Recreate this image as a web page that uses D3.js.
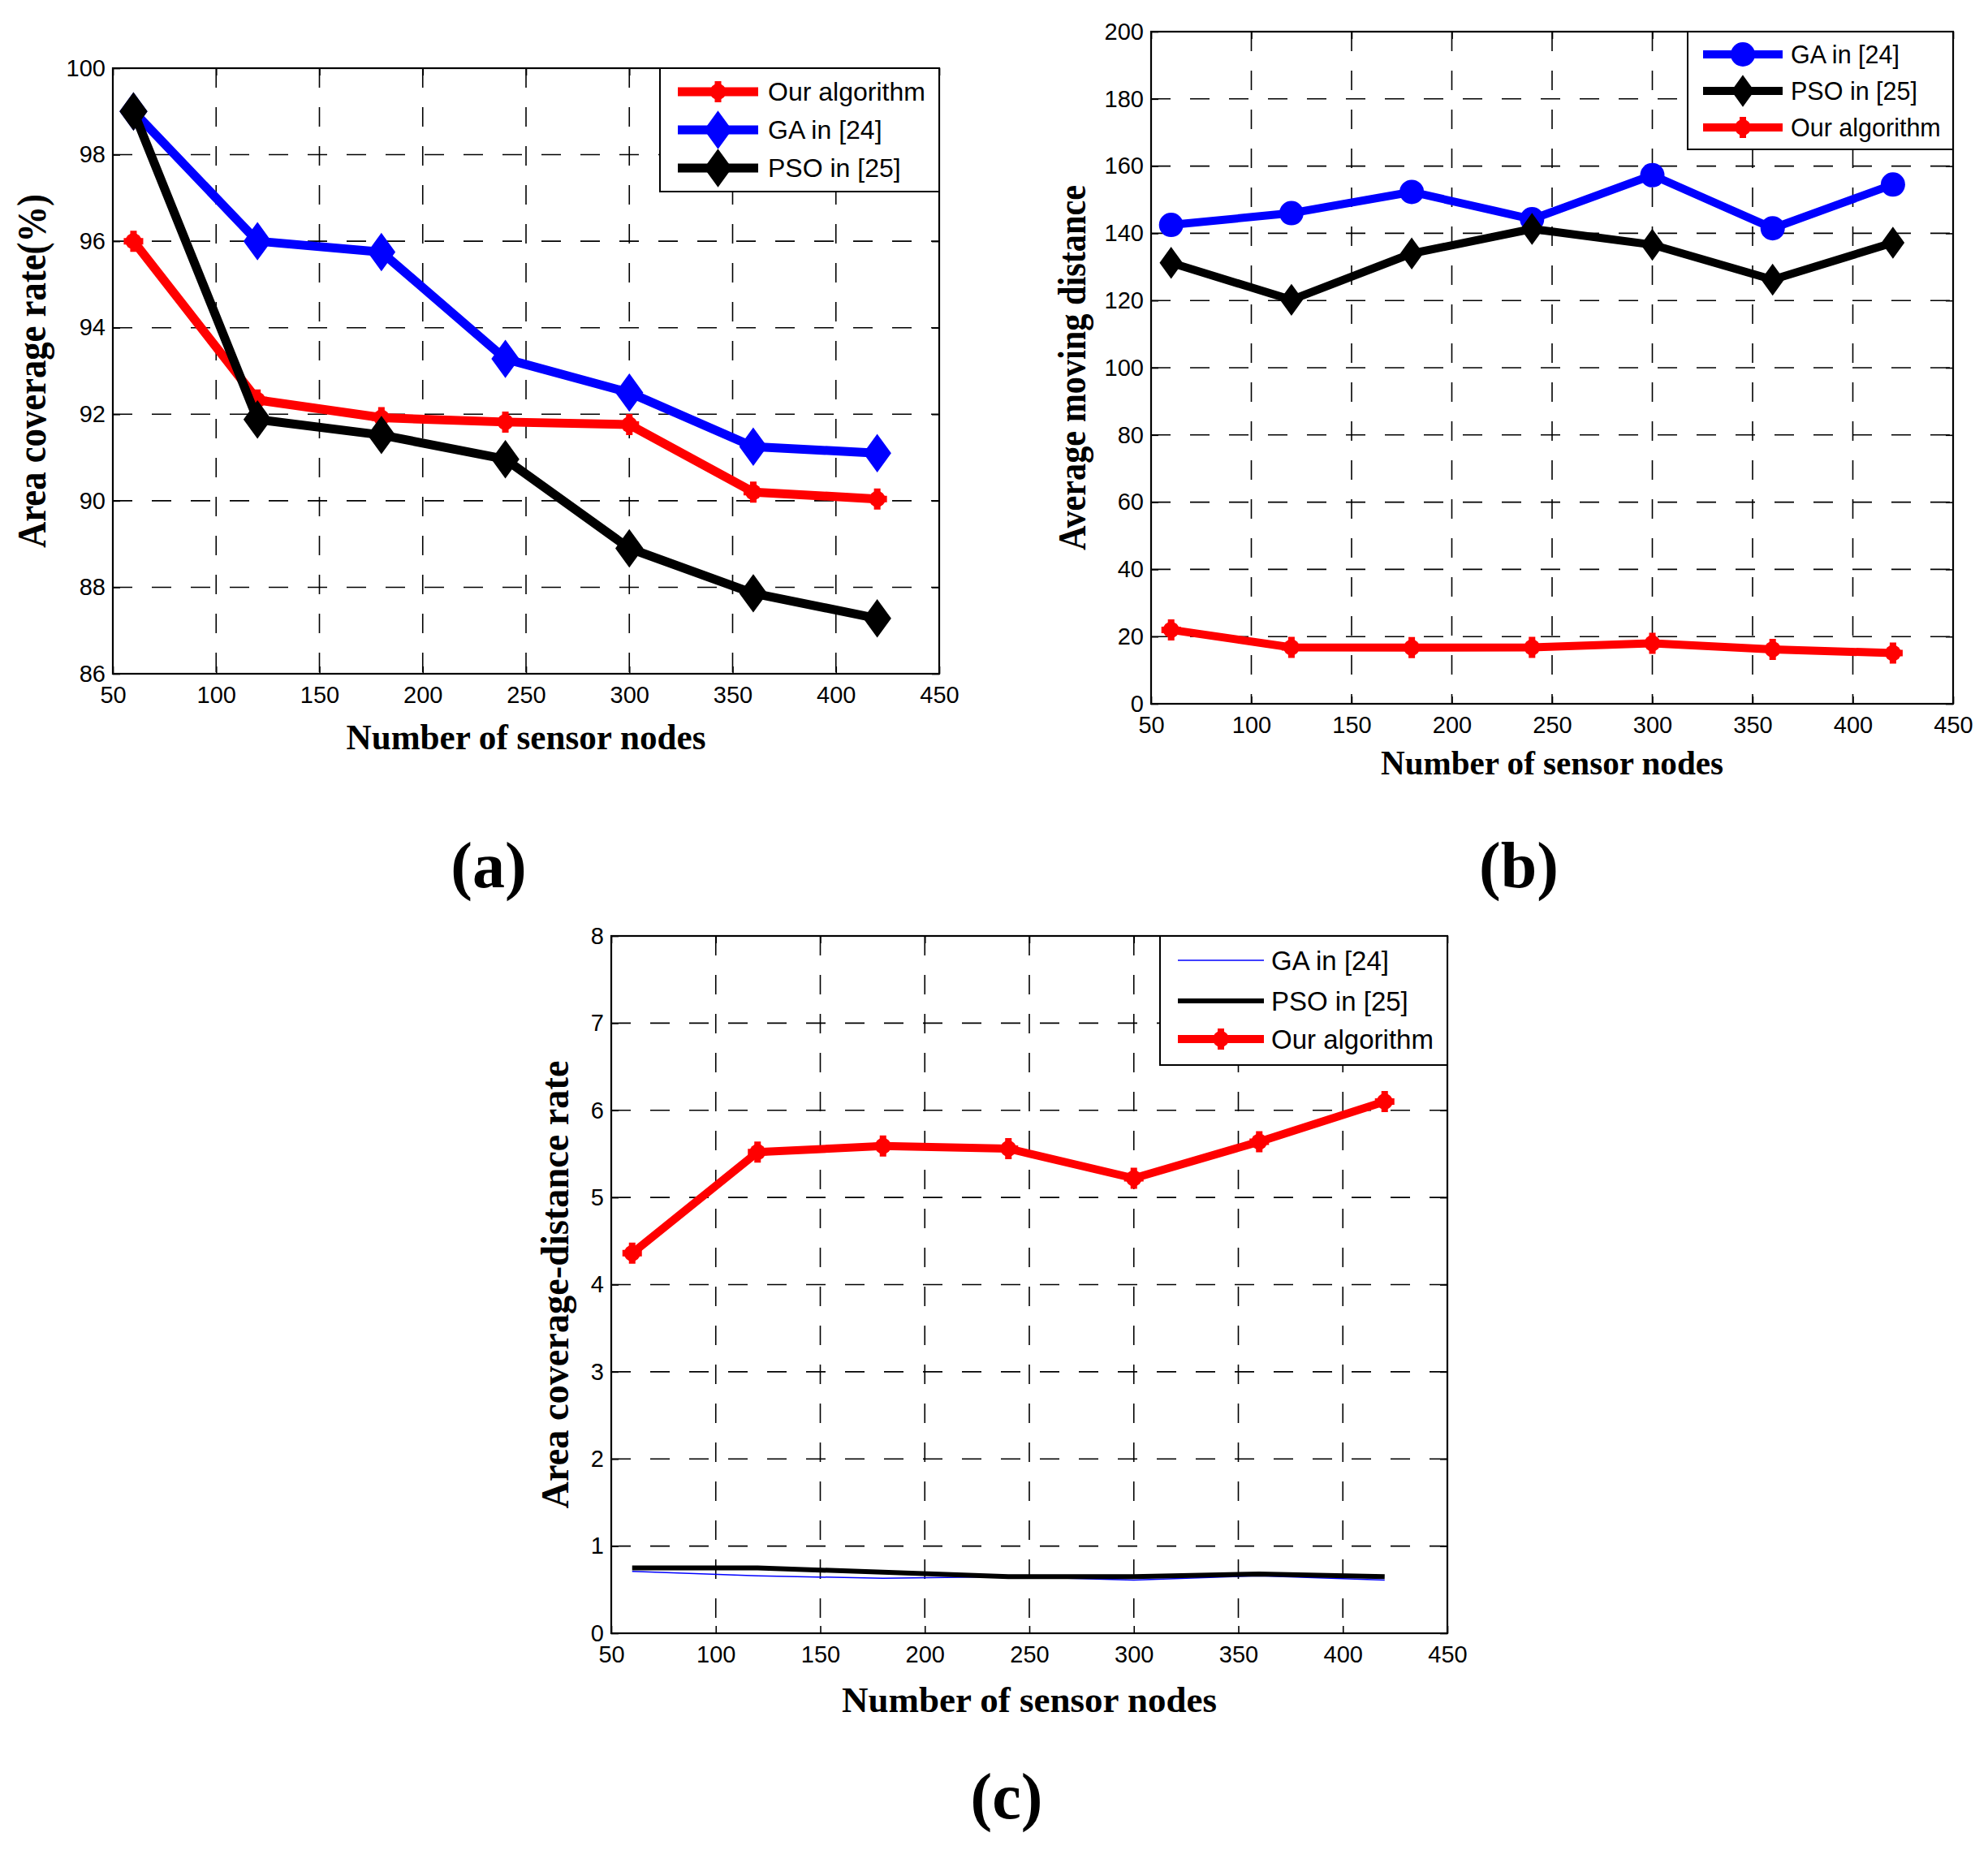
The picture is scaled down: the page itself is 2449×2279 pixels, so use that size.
<!DOCTYPE html>
<html>
<head>
<meta charset="utf-8">
<script src="https://cdn.jsdelivr.net/npm/d3@7"></script>
<style>
body{margin:0;background:#fff}
svg{display:block}
</style>
</head>
<body>
<svg id="fig" width="2449" height="2279"></svg>
<script>
// x values shared by all three panels
var nodes=[60,120,180,240,300,360,420]
var xTicks=[50,100,150,200,250,300,350,400,450]

// (a) area coverage rate (%)
var coverOurs=[96.0,92.33,91.92,91.82,91.76,90.2,90.04]
var coverGA=[99.0,96.0,95.75,93.28,92.5,91.25,91.1]
var coverPSO=[99.0,91.88,91.52,90.96,88.9,87.86,87.28]
var yTicksA=[86,88,90,92,94,96,98,100]

// (b) average moving distance
var distGA=[142.5,146,152.3,144.2,157.3,141.5,154.5]
var distPSO=[131.2,120.2,134,141.3,136.6,126.2,137.2]
var distOurs=[22,16.8,16.7,16.8,18,16.2,15.1]
var yTicksB=[0,20,40,60,80,100,120,140,160,180,200]

// (c) area coverage-distance rate
var ratioGA=[0.71,0.66,0.63,0.65,0.61,0.66,0.61]
var ratioPSO=[0.75,0.75,0.70,0.65,0.65,0.68,0.65]
var ratioOurs=[4.36,5.52,5.59,5.56,5.22,5.64,6.1]
var yTicksC=[0,1,2,3,4,5,6,7,8]

var tickFont='"Liberation Sans", Arial, sans-serif'
var titleFont='"Liberation Serif", "Times New Roman", serif'
var RED='#ff0000', BLUE='#0000ff', BLACK='#000000'

var panels=[
 {box:{l:139,r:1157,t:84,b:830},yDomain:[86,100],yTicks:yTicksA,
  series:[
   {name:'Our algorithm',values:coverOurs,color:RED,width:11,marker:'plus'},
   {name:'GA in [24]',values:coverGA,color:BLUE,width:11,marker:'diamond',mw:16,mh:22},
   {name:'PSO in [25]',values:coverPSO,color:BLACK,width:11,marker:'diamond',mw:16,mh:22}],
  legend:{l:813,t:84,r:1157,b:236,rows:[113,160,207],x1:835,x2:934,tx:946,fs:32},
  xTitle:{text:'Number of sensor nodes',y:923,len:443,size:44},
  yTitle:{text:'Area coverage rate(%)',x:56,len:436,size:50}},
 {box:{l:1418,r:2406,t:39,b:867},yDomain:[0,200],yTicks:yTicksB,
  series:[
   {name:'GA in [24]',values:distGA,color:BLUE,width:10,marker:'circle'},
   {name:'PSO in [25]',values:distPSO,color:BLACK,width:10,marker:'diamond',mw:13,mh:18},
   {name:'Our algorithm',values:distOurs,color:RED,width:10,marker:'plus'}],
  legend:{l:2079,t:39,r:2406,b:184,rows:[67,112,157],x1:2098,x2:2196,tx:2206,fs:30.5},
  xTitle:{text:'Number of sensor nodes',y:954,len:422,size:42},
  yTitle:{text:'Average moving distance',x:1337,len:450,size:48}},
 {box:{l:753,r:1783,t:1153,b:2012},yDomain:[0,8],yTicks:yTicksC,
  series:[
   {name:'GA in [24]',values:ratioGA,color:BLUE,width:1.5,marker:null},
   {name:'PSO in [25]',values:ratioPSO,color:BLACK,width:6,marker:null},
   {name:'Our algorithm',values:ratioOurs,color:RED,width:10,marker:'plus'}],
  legend:{l:1429,t:1153,r:1783,b:1312,rows:[1183,1233,1280],x1:1451,x2:1557,tx:1566,fs:33},
  xTitle:{text:'Number of sensor nodes',y:2109,len:462,size:44},
  yTitle:{text:'Area coverage-distance rate',x:700,len:552,size:48}}
]

var labels=[{text:'(a)',x:602,y:1093},{text:'(b)',x:1871,y:1093},{text:'(c)',x:1240,y:2240}]

var svg=d3.select('#fig')
svg.append('rect').attr('width',2449).attr('height',2279).attr('fill','#fff')

function drawMarker(g,s,x,y){
	if(s.marker=='diamond'){
		g.append('path')
		.attr('d','M'+x+','+(y-s.mh)+'L'+(x+s.mw)+','+y+'L'+x+','+(y+s.mh)+'L'+(x-s.mw)+','+y+'Z')
		.attr('fill',s.color).attr('stroke',s.color).attr('stroke-width',2)
	}
	else if(s.marker=='circle'){
		g.append('circle').attr('cx',x).attr('cy',y).attr('r',15).attr('fill',s.color)
	}
	else if(s.marker=='plus'){
		g.append('path')
		.attr('d','M'+(x-12)+','+y+'H'+(x+12)+'M'+x+','+(y-13)+'V'+(y+13))
		.attr('stroke',s.color).attr('stroke-width',8)
		g.append('circle').attr('cx',x).attr('cy',y).attr('r',10).attr('fill',s.color)
	}
}

panels.forEach(function(p){
	var b=p.box
	var x=d3.scaleLinear().domain([50,450]).range([b.l,b.r])
	var y=d3.scaleLinear().domain(p.yDomain).range([b.b,b.t])
	var g=svg.append('g')

	// dashed grid
	g.selectAll('.vg').data(xTicks.slice(1,-1)).enter().append('line')
	.attr('x1',d=>x(d)).attr('x2',d=>x(d)).attr('y1',b.t).attr('y2',b.b)
	.attr('stroke','#000').attr('stroke-width',1.6).attr('stroke-dasharray','24,24')
	g.selectAll('.hg').data(p.yTicks.slice(1,-1)).enter().append('line')
	.attr('y1',d=>y(d)).attr('y2',d=>y(d)).attr('x1',b.l).attr('x2',b.r)
	.attr('stroke','#000').attr('stroke-width',1.6).attr('stroke-dasharray','24,24')

	// axes with inward ticks
	var ax=[
		[d3.axisBottom(x).tickValues(xTicks).tickSize(-9).tickPadding(15),'translate(0,'+b.b+')'],
		[d3.axisTop(x).tickValues(xTicks).tickSize(-9).tickFormat(''),'translate(0,'+b.t+')'],
		[d3.axisLeft(y).tickValues(p.yTicks).tickSize(-9).tickPadding(9),'translate('+b.l+',0)'],
		[d3.axisRight(y).tickValues(p.yTicks).tickSize(-9).tickFormat(''),'translate('+b.r+',0)']]
	ax.forEach(function(a){
		var ag=g.append('g').attr('transform',a[1]).call(a[0])
		ag.select('.domain').remove()
		ag.selectAll('line').attr('stroke','#000').attr('stroke-width',1.6)
		ag.selectAll('text').attr('font-family',tickFont).attr('font-size',29).attr('fill','#000')
	})
	g.append('rect').attr('x',b.l).attr('y',b.t).attr('width',b.r-b.l).attr('height',b.b-b.t)
	.attr('fill','none').attr('stroke','#000').attr('stroke-width',2.2)

	// series
	var line=d3.line().x((d,i)=>x(nodes[i])).y(d=>y(d))
	p.series.forEach(function(s){
		var sg=g.append('g')
		sg.append('path').attr('d',line(s.values)).attr('fill','none')
		.attr('stroke',s.color).attr('stroke-width',s.width).attr('stroke-linejoin','round')
		if(s.marker) s.values.forEach((v,i)=>drawMarker(sg,s,x(nodes[i]),y(v)))
	})

	// legend
	var L=p.legend
	g.append('rect').attr('x',L.l).attr('y',L.t).attr('width',L.r-L.l).attr('height',L.b-L.t)
	.attr('fill','#fff').attr('stroke','#000').attr('stroke-width',2)
	p.series.forEach(function(s,i){
		var ry=L.rows[i]
		g.append('line').attr('x1',L.x1).attr('x2',L.x2).attr('y1',ry).attr('y2',ry)
		.attr('stroke',s.color).attr('stroke-width',s.width)
		if(s.marker) drawMarker(g,s,(L.x1+L.x2)/2,ry)
		g.append('text').attr('x',L.tx).attr('y',ry).attr('dy','0.35em')
		.attr('font-family',tickFont).attr('font-size',L.fs).text(s.name)
	})

	// titles
	g.append('text').attr('x',(b.l+b.r)/2).attr('y',p.xTitle.y).attr('text-anchor','middle')
	.attr('font-family',titleFont).attr('font-weight','bold').attr('font-size',p.xTitle.size)
	.attr('textLength',p.xTitle.len).attr('lengthAdjust','spacingAndGlyphs').text(p.xTitle.text)
	g.append('text').attr('transform','translate('+p.yTitle.x+','+(b.t+b.b)/2+') rotate(-90)')
	.attr('text-anchor','middle')
	.attr('font-family',titleFont).attr('font-weight','bold').attr('font-size',p.yTitle.size)
	.attr('textLength',p.yTitle.len).attr('lengthAdjust','spacingAndGlyphs').text(p.yTitle.text)
})

svg.selectAll('.plabel').data(labels).enter().append('text')
.attr('x',d=>d.x).attr('y',d=>d.y).attr('text-anchor','middle')
.attr('font-family',titleFont).attr('font-weight','bold').attr('font-size',80)
.text(d=>d.text)
</script>
</body>
</html>
